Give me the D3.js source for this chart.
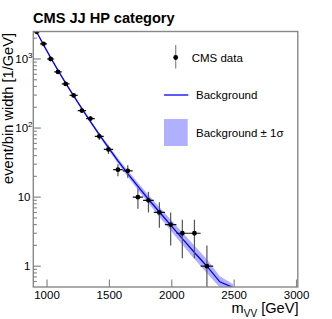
<!DOCTYPE html>
<html><head><meta charset="utf-8">
<script src="https://cdn.jsdelivr.net/npm/d3@7"></script>
<style>
html,body{margin:0;padding:0;background:#fff;}
svg{display:block;font-family:"Liberation Sans",Arial,Helvetica,sans-serif;}
</style></head>
<body><svg id="c" width="332" height="319"></svg>
<script>
// ---- data ----
const binEdges = [890, 944, 1000, 1058, 1118, 1181, 1246, 1313, 1383, 1455, 1530, 1607, 1687, 1770, 1856, 1945, 2037, 2132, 2231, 2332, 2438, 2546];
const dataValues = [2480, 1660, 1000, 650, 435, 297, 179, 137, 76, 49, 25, 24, 10, 9, 6, 4, 3, 3, 1];
const dataErrors = [50, 41, 32, 25.5, 21, 17, 13.4, 11.7, 8.7, 7, 5, 4.9, 3.2, 3, 2.4, 2, 1.7, 1.7, 1];
const bkgValues = [2455, 1603, 1047, 684, 447, 292, 191, 124, 80.4, 51.9, 33.5, 21.9, 14.3, 9.33, 6.10, 3.94, 2.51, 1.58, 1.0, 0.594, 0.49];
const bkgLow  = [2399, 1567, 1018, 664, 432, 281, 182, 118, 75.6, 48.2, 30.7, 19.7, 12.7, 8.13, 5.19, 3.28, 2.04, 1.27, 0.794, 0.494, 0.437];
const bkgHigh = [2512, 1640, 1076, 705, 463, 304, 200, 131, 85.5, 55.8, 36.5, 24.3, 16.1, 10.71, 7.17, 4.74, 3.09, 1.97, 1.259, 0.714, 0.55];
const xTicks = [1000, 1500, 2000, 2500, 3000];
const yMajor = [1, 10, 100, 1000];
const yMinor = [0.6, 0.7, 0.8, 0.9, 2, 3, 4, 5, 6, 7, 8, 9, 20, 30, 40, 50, 60, 70, 80, 90, 200, 300, 400, 500, 600, 700, 800, 900, 2000];
const titleText = "CMS JJ HP category";
const legendLabels = ["CMS data", "Background", "Background \u00b1 1\u03c3"];

// ---- layout ----
const L = 33.3, R = 297.8, T = 31.5, B = 287;
const svg = d3.select("#c");
const x = d3.scaleLinear().domain([890, 3010]).range([L, R]);
const y = d3.scaleLog().domain([0.5, 2500]).range([B, T]);

const centers = binEdges.slice(0, -1).map((e, i) => (e + binEdges[i + 1]) / 2);
const bkg = bkgValues.map((v, i) => ({x: centers[i], v, lo: bkgLow[i], hi: bkgHigh[i]}));
const pts = dataValues.map((v, i) => ({x: centers[i], x0: binEdges[i], x1: binEdges[i + 1], v, e: dataErrors[i]}));

svg.append("defs").append("clipPath").attr("id", "clip")
  .append("rect").attr("x", L).attr("y", T).attr("width", R - L).attr("height", B - T);
const g = svg.append("g").attr("clip-path", "url(#clip)");

// band
g.append("path").datum(bkg)
  .attr("d", d3.area().x(d => x(d.x)).y0(d => y(d.lo)).y1(d => y(d.hi)))
  .attr("fill", "#b0b0ff").attr("stroke", "none");
// line
g.append("path").datum(bkg)
  .attr("d", d3.line().x(d => x(d.x)).y(d => y(d.v)))
  .attr("fill", "none").attr("stroke", "#0000ff").attr("stroke-width", 1.3);

// data
const dp = g.append("g");
pts.forEach(p => {
  const lo = Math.max(p.v - p.e, 0.01);
  dp.append("line").attr("x1", x(p.x)).attr("x2", x(p.x))
    .attr("y1", y(lo)).attr("y2", y(p.v + p.e)).attr("stroke", "#555").attr("stroke-width", 1.2);
  dp.append("line").attr("x1", x(p.x0)).attr("x2", x(p.x1))
    .attr("y1", y(p.v)).attr("y2", y(p.v)).attr("stroke", "#111").attr("stroke-width", 1.2);
  dp.append("circle").attr("cx", x(p.x)).attr("cy", y(p.v)).attr("r", 2.4).attr("fill", "#000");
});

// frame
const axc = "#888";
svg.append("rect").attr("x", L).attr("y", T).attr("width", R - L).attr("height", B - T)
  .attr("fill", "none").attr("stroke", axc).attr("stroke-width", 1.4);

// x ticks
xTicks.forEach(t => {
  svg.append("line").attr("x1", x(t)).attr("x2", x(t)).attr("y1", B).attr("y2", B - 7.5)
    .attr("stroke", axc).attr("stroke-width", 1.2);
  svg.append("text").attr("x", x(t)).attr("y", 298.5).attr("text-anchor", "middle")
    .attr("font-size", 11.5).attr("fill", "#000").text(t);
});
// y ticks
yMajor.forEach(t => {
  svg.append("line").attr("x1", L).attr("x2", L + 7.5).attr("y1", y(t)).attr("y2", y(t))
    .attr("stroke", axc).attr("stroke-width", 1.2);
  const tx = svg.append("text").attr("y", y(t) + 4).attr("font-size", 11.5).attr("fill", "#000")
    .attr("text-anchor", "end");
  if (t < 100) { tx.attr("x", 30.5).text(t); }
  else {
    tx.attr("x", 32.5);
    tx.append("tspan").text("10");
    tx.append("tspan").attr("font-size", 8).attr("dy", -5).text(String(Math.round(Math.log10(t))));
  }
});
yMinor.forEach(t => {
  svg.append("line").attr("x1", L).attr("x2", L + 3.5).attr("y1", y(t)).attr("y2", y(t))
    .attr("stroke", axc).attr("stroke-width", 1.2);
});

// titles
svg.append("text").attr("x", 33).attr("y", 22.5).attr("font-size", 14.6).attr("font-weight", "bold")
  .attr("fill", "#000").text(titleText);
svg.append("text").attr("transform", "translate(12.5,33) rotate(-90)").attr("text-anchor", "end")
  .attr("font-size", 14.6).attr("fill", "#000").text("event/bin width [1/GeV]");
const xt = svg.append("text").attr("x", 298.5).attr("y", 313).attr("text-anchor", "end")
  .attr("font-size", 14.6).attr("fill", "#000");
xt.append("tspan").text("m");
xt.append("tspan").attr("font-size", 10).attr("dy", 4).text("VV");
xt.append("tspan").attr("dy", -4).text(" [GeV]");

// legend
const lg = svg.append("g");
lg.append("line").attr("x1", 175.7).attr("x2", 175.7).attr("y1", 45).attr("y2", 68.5)
  .attr("stroke", "#888").attr("stroke-width", 1.2);
lg.append("circle").attr("cx", 175.7).attr("cy", 57.5).attr("r", 2.4).attr("fill", "#000");
lg.append("text").attr("x", 191.7).attr("y", 61.5).attr("font-size", 11.5).attr("fill", "#000").text(legendLabels[0]);
lg.append("line").attr("x1", 164).attr("x2", 188.3).attr("y1", 95).attr("y2", 95)
  .attr("stroke", "#0000ff").attr("stroke-width", 1.3);
lg.append("text").attr("x", 196).attr("y", 99).attr("font-size", 11.5).attr("fill", "#000").text(legendLabels[1]);
lg.append("rect").attr("x", 164).attr("y", 119).attr("width", 23.7).attr("height", 27).attr("fill", "#b0b0ff");
lg.append("text").attr("x", 196).attr("y", 136.5).attr("font-size", 11.5).attr("fill", "#000").text(legendLabels[2]);
</script></body></html>
